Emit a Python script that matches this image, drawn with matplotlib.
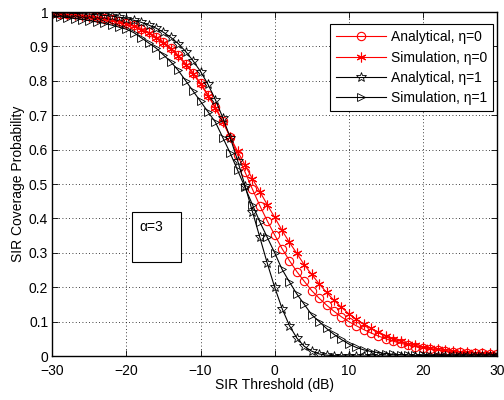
import matplotlib
matplotlib.use("Agg")
import matplotlib.pyplot as plt
from matplotlib.patches import Rectangle
from matplotlib.ticker import FuncFormatter

plt.rcParams['font.family'] = ['Liberation Sans', 'DejaVu Sans']

sir_db = list(range(-30, 31))

analytical_eta0 = [0.996, 0.995, 0.994, 0.993, 0.991, 0.989, 0.986, 0.983, 0.979, 0.974,
                   0.968, 0.961, 0.952, 0.941, 0.928, 0.913, 0.895, 0.874, 0.850, 0.823,
                   0.793, 0.760, 0.724, 0.683, 0.637, 0.585, 0.535, 0.485, 0.437, 0.393,
                   0.352, 0.312, 0.277, 0.245, 0.217, 0.190, 0.168, 0.148, 0.130, 0.114,
                   0.100, 0.088, 0.077, 0.067, 0.058, 0.050, 0.043, 0.037, 0.032, 0.027,
                   0.023, 0.020, 0.017, 0.015, 0.013, 0.011, 0.010, 0.009, 0.008, 0.007,
                   0.006]

simulation_eta0 = [0.994, 0.993, 0.992, 0.990, 0.988, 0.986, 0.983, 0.980, 0.976, 0.971,
                   0.965, 0.958, 0.949, 0.938, 0.925, 0.910, 0.892, 0.871, 0.847, 0.820,
                   0.790, 0.757, 0.721, 0.680, 0.637, 0.595, 0.555, 0.515, 0.478, 0.440,
                   0.403, 0.365, 0.330, 0.298, 0.265, 0.237, 0.210, 0.185, 0.162, 0.142,
                   0.123, 0.107, 0.093, 0.080, 0.069, 0.059, 0.050, 0.043, 0.036, 0.031,
                   0.026, 0.022, 0.019, 0.016, 0.014, 0.012, 0.011, 0.010, 0.009, 0.008,
                   0.007]

analytical_eta1 = [0.998, 0.997, 0.997, 0.996, 0.995, 0.994, 0.992, 0.990, 0.988, 0.985,
                   0.981, 0.976, 0.970, 0.962, 0.953, 0.941, 0.926, 0.908, 0.885, 0.858,
                   0.827, 0.790, 0.745, 0.693, 0.635, 0.568, 0.495, 0.420, 0.345, 0.270,
                   0.200, 0.138, 0.088, 0.052, 0.028, 0.014, 0.006, 0.0025, 0.001, 0.0004,
                   0.0002, 0.0001, 0.0, 0.0, 0.0, 0.0, 0.0, 0.0, 0.0, 0.0,
                   0.0, 0.0, 0.0, 0.0, 0.0, 0.0, 0.0, 0.0, 0.0, 0.0,
                   0.0]

simulation_eta1 = [0.988, 0.986, 0.984, 0.981, 0.978, 0.975, 0.971, 0.967, 0.962, 0.956,
                   0.950, 0.940, 0.925, 0.910, 0.895, 0.875, 0.855, 0.830, 0.800, 0.770,
                   0.740, 0.710, 0.680, 0.635, 0.590, 0.540, 0.490, 0.440, 0.390, 0.345,
                   0.300, 0.252, 0.215, 0.180, 0.150, 0.120, 0.100, 0.080, 0.063, 0.048,
                   0.035, 0.025, 0.018, 0.013, 0.010, 0.007, 0.005, 0.004, 0.003, 0.002,
                   0.0015, 0.001, 0.0008, 0.0006, 0.0004, 0.0003, 0.0002, 0.0001, 0.0, 0.0,
                   0.0]

labels = ['Analytical, \u03b7=0', 'Simulation, \u03b7=0',
          'Analytical, \u03b7=1', 'Simulation, \u03b7=1']

fig = plt.figure(figsize=(5.04, 4.0), dpi=100)
ax = fig.add_axes([0.1038, 0.11, 0.8823, 0.86])

lw = 0.8
ax.plot(sir_db, analytical_eta0, color='red', lw=lw, marker='o', ms=6,
        mfc='none', mec='red', mew=0.8, label=labels[0])
ax.plot(sir_db, simulation_eta0, color='red', lw=lw, marker=(6, 2, 0), ms=7,
        mec='red', mew=0.8, label=labels[1])
ax.plot(sir_db, analytical_eta1, color='black', lw=lw, marker='*', ms=7,
        mfc='none', mec='black', mew=0.6, label=labels[2])
ax.plot(sir_db, simulation_eta1, color='black', lw=lw, marker='>', ms=6,
        mfc='none', mec='black', mew=0.6, label=labels[3])

ax.set_xlim(-30, 30)
ax.set_ylim(0, 1)
ax.set_xticks([-30, -20, -10, 0, 10, 20, 30])
ax.set_yticks([i / 10 for i in range(11)])
ax.xaxis.set_major_formatter(FuncFormatter(lambda v, p: ('%d' % v).replace('-', '\u2212')))
ax.yaxis.set_major_formatter(FuncFormatter(lambda v, p: '%g' % round(v, 1)))
ax.tick_params(direction='in', top=True, right=True, labelsize=10, length=4, width=0.6)
ax.tick_params(axis='x', pad=5.5)
ax.tick_params(axis='y', pad=3)
ax.grid(True, linestyle=(0, (1, 3)), color='black', lw=0.6)
for s in ax.spines.values():
    s.set_linewidth(1.0)

ax.set_xlabel('SIR Threshold (dB)', fontsize=10, labelpad=0)
ax.set_ylabel('SIR Coverage Probability', fontsize=10, labelpad=3)

leg = ax.legend(loc='upper right', bbox_to_anchor=(0.9917, 0.965), borderaxespad=0,
                fancybox=False, edgecolor='black', fontsize=10, numpoints=1,
                handlelength=3.6, handletextpad=0.35, labelspacing=0.45,
                borderpad=0.45, framealpha=1)
leg.get_frame().set_linewidth(0.8)

rect = Rectangle((-19.2, 0.272), 6.55, 0.148, fill=True, facecolor='white',
                 edgecolor='black', lw=0.8, zorder=5)
ax.add_patch(rect)
ax.text(-18.3, 0.376, '\u03b1=3', fontsize=10, va='center', ha='left', zorder=6)

fig.savefig('out.png', dpi=100)
